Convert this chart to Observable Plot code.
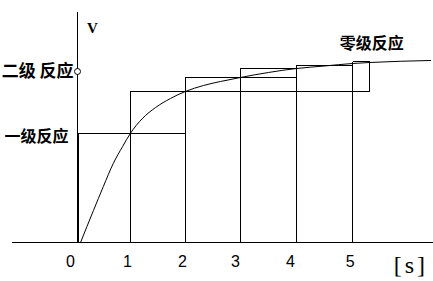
<!DOCTYPE html>
<html>
<head>
<meta charset="utf-8">
<script src="https://cdn.jsdelivr.net/npm/d3@7"></script>
<script src="https://cdn.jsdelivr.net/npm/@observablehq/plot@0.6"></script>
<style>
  html, body { margin: 0; padding: 0; background: #fff; }
  svg { display: block; }
</style>
</head>
<body>
<div id="chart"></div>
<script>
// time positions of the interval boundaries (s)
const stepX = [0, 0.96, 1.96, 2.96, 3.98, 5.0];
const rightEdge = 5.31;
// heights (arbitrary velocity units)
const firstOrder = 10.9;
const secondOrder = 17.1;
// horizontal tops: [x1, x2, v]
const tops = [
  [0, 1.96, 10.9],
  [0.96, 5.31, 15.1],
  [1.96, 3.98, 16.5],
  [2.96, 3.98, 17.4],
  [3.98, 5.0, 17.7],
  [5.0, 5.31, 18.1]
];
// vertical sides: [x, v1, v2]
const sides = [
  [0.96, 0, 15.1],
  [1.96, 0, 16.5],
  [2.96, 0, 17.4],
  [3.98, 0, 17.7],
  [5.0, 0, 18.1],
  [5.31, 15.1, 18.1]
];
// the rate curve
const curveT = [0.055, 0.29, 0.47, 0.65, 0.82, 0.96, 1.18, 1.42, 1.69, 1.96, 2.29, 2.6, 2.96, 3.47, 3.98, 4.49, 5.0, 5.31, 6.42];
const curveV = [0, 3.2, 5.6, 7.9, 9.6, 10.9, 12.4, 13.5, 14.4, 15.1, 15.7, 16.1, 16.5, 17.0, 17.4, 17.65, 17.9, 18.0, 18.2];
// tick labels and their positions
const tickLabels = ["0", "1", "2", "3", "4", "5"];
const tickPos = [-0.13, 0.91, 1.91, 2.87, 3.87, 4.96];
const tickV = -1.9;
const axisLeft = -1.18, axisRight = 6.47, axisTop = 23;

const segs = [
  ...tops.map(([a, b, v]) => ({x1: a, x2: b, y1: v, y2: v, w: 1})),
  ...sides.map(([x, a, b]) => ({x1: x, x2: x, y1: a, y2: b, w: 1})),
  {x1: 0, x2: 0, y1: 0, y2: firstOrder, w: 2}
];
const curve = curveT.map((t, i) => ({t, v: curveV[i]}));
const ticks = tickLabels.map((s, i) => ({s, x: tickPos[i]}));

const chart = Plot.plot({
  width: 433,
  height: 281,
  margin: 0,
  style: {background: "#fff"},
  x: {domain: [0, 5], range: [77, 352], axis: null},
  y: {domain: [0, 10], range: [242, 142], axis: null},
  marks: [
    Plot.ruleY([0], {x1: axisLeft, x2: axisRight, stroke: "#000", strokeWidth: 1, shapeRendering: "crispEdges"}),
    Plot.ruleX([0], {y1: 0, y2: axisTop, stroke: "#000", strokeWidth: 1, shapeRendering: "crispEdges"}),
    Plot.link(segs, {x1: "x1", y1: "y1", x2: "x2", y2: "y2", stroke: "#000", strokeWidth: "w", shapeRendering: "crispEdges"}),
    Plot.line(curve, {x: "t", y: "v", curve: "monotone-x", stroke: "#000", strokeWidth: 1}),
    Plot.dot([{x: 0, v: secondOrder}], {x: "x", y: "v", r: 3, fill: "#fff", stroke: "#000", strokeWidth: 1}),
    Plot.text(ticks, {x: "x", y: () => tickV, text: "s", fontSize: 16, fontFamily: "Liberation Sans", fill: "#000"}),
    Plot.text(["[s]"], {x: () => 6.06, y: () => -2.3, text: d => d, fontSize: 24, fontFamily: "Liberation Serif", fill: "#000"}),
    Plot.text(["V"], {x: () => 0.27, y: () => 21.4, text: d => d, fontSize: 15, fontWeight: "bold", fontFamily: "Liberation Serif", fill: "#000"}),
    Plot.text(["一级反应"], {x: () => 0, y: () => firstOrder, dx: -9, dy: 3, textAnchor: "end", text: d => d, fontSize: 16, fontWeight: "bold", fontFamily: "Noto Sans CJK SC", fill: "#000"}),
    Plot.text(["二级 反应"], {x: () => 0, y: () => secondOrder, dx: -4, textAnchor: "end", text: d => d, fontSize: 17, fontWeight: "bold", fontFamily: "Noto Sans CJK SC", fill: "#000"}),
    Plot.text(["零级反应"], {x: () => 5.35, y: () => 19.9, text: d => d, fontSize: 16, fontWeight: "bold", fontFamily: "Noto Sans CJK SC", fill: "#000"})
  ]
});
d3.select(chart).selectAll("text")
  .filter(function() { return this.textContent === "[s]"; })
  .attr("letter-spacing", 3);
document.getElementById("chart").appendChild(chart);
</script>
</body>
</html>
